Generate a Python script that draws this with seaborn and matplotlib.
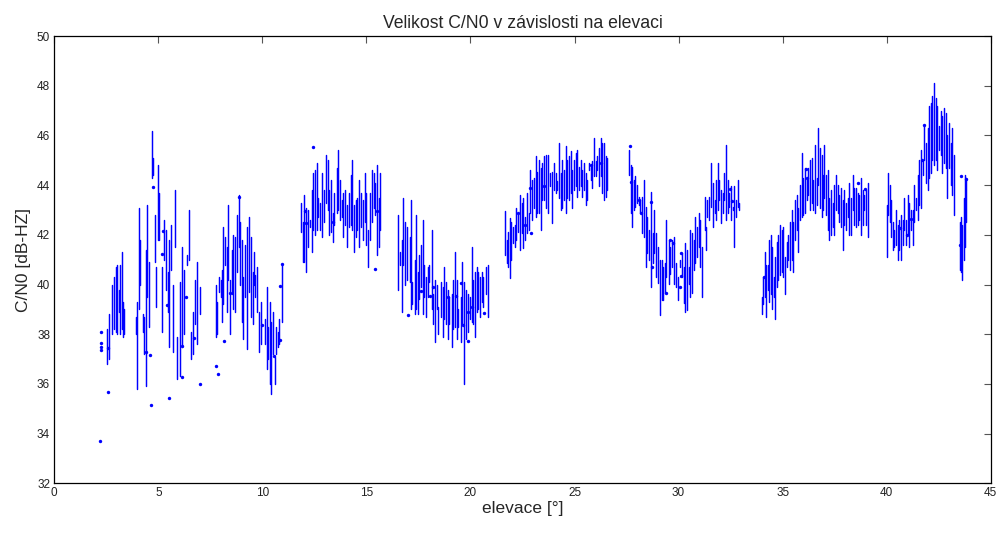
import pandas as pd
import matplotlib
matplotlib.use('Agg')
import matplotlib.pyplot as plt
import seaborn as sns

# C/N0 vs elevation: each pass drawn as short vertical strokes (hi/lo per elevation step)
c1_elev = [2.52, 2.62, 2.75, 2.88, 2.97, 3.03, 3.1, 3.18, 3.25, 3.3, 3.36]
c1_hi = [38.2, 38.8, 40.0, 40.3, 40.7, 40.8, 39.8, 40.8, 41.3, 39.3, 39.0]
c1_lo = [36.8, 37.0, 38.0, 38.2, 38.1, 38.0, 38.9, 38.0, 38.2, 37.9, 38.0]

c2_elev = [3.91, 3.99, 4.05, 4.12, 4.25, 4.33, 4.39, 4.47, 4.55, 4.68, 4.74, 4.83, 4.9, 4.97, 5.04,
           5.16, 5.27, 5.36, 5.44, 5.53, 5.6, 5.69, 5.8, 5.92, 6.02, 6.12, 6.22, 6.36, 6.46, 6.55,
           6.68, 6.78, 6.88, 6.98]
c2_hi = [38.7, 39.3, 43.1, 41.8, 38.8, 38.7, 41.4, 43.2, 40.9, 46.2, 45.1, 42.8, 40.7, 44.8, 43.7,
         40.7, 42.6, 42.2, 40.5, 41.8, 42.4, 40.0, 43.8, 37.9, 40.1, 41.5, 40.6, 41.2, 43.0, 38.1,
         38.9, 40.2, 40.9, 39.9]
c2_lo = [38.0, 35.8, 39.0, 40.0, 38.1, 37.2, 35.9, 39.5, 38.3, 44.3, 44.4, 40.9, 39.1, 41.8, 41.8,
         38.1, 41.0, 39.8, 38.9, 37.5, 40.6, 37.3, 41.5, 36.2, 36.3, 37.5, 38.0, 40.8, 41.0, 37.0,
         37.2, 38.4, 37.6, 38.8]

c3_elev = [7.76, 7.84, 7.92, 8.0, 8.08, 8.12, 8.2, 8.28, 8.35, 8.44, 8.52, 8.6, 8.68, 8.8, 8.86,
           8.92, 9.0, 9.08, 9.16, 9.27, 9.37, 9.45, 9.53, 9.6, 9.66, 9.76, 9.84, 9.92, 10.13, 10.21,
           10.29, 10.37, 10.42, 10.5, 10.59, 10.66, 10.74, 10.82, 10.95]
c3_hi = [40.0, 39.3, 40.3, 40.2, 40.6, 42.3, 41.9, 41.5, 43.2, 40.2, 41.4, 42.0, 41.9, 42.8, 43.6,
         42.5, 41.8, 40.3, 41.6, 42.3, 42.7, 41.9, 40.5, 41.3, 40.4, 40.7, 38.9, 39.3, 38.6, 39.9,
         38.3, 39.3, 38.5, 38.9, 37.1, 38.3, 38.1, 38.6, 40.8]
c3_lo = [37.9, 38.0, 39.7, 39.5, 38.5, 39.2, 40.8, 38.9, 40.2, 38.0, 39.6, 39.0, 38.9, 40.5, 41.5,
         40.0, 38.5, 37.8, 39.5, 37.4, 39.7, 38.7, 38.4, 40.0, 39.5, 38.9, 37.3, 37.6, 37.6, 36.6,
         37.0, 36.0, 35.6, 37.2, 36.0, 37.2, 37.5, 37.6, 38.5]

c4_elev = [11.85, 11.93, 12.01, 12.1, 12.18, 12.29, 12.37, 12.45, 12.53, 12.61, 12.69, 12.77, 12.85,
           12.96, 13.06, 13.14, 13.22, 13.3, 13.38, 13.46, 13.57, 13.65, 13.73, 13.81, 13.89, 13.97,
           14.05, 14.15, 14.25, 14.31, 14.41, 14.49, 14.57, 14.65, 14.74, 14.82, 14.92, 15.0, 15.08,
           15.18, 15.26, 15.34, 15.4, 15.5, 15.58, 15.66]
c4_hi = [43.3, 42.5, 43.6, 43.1, 43.0, 42.6, 43.8, 44.5, 44.6, 44.9, 43.5, 43.3, 44.5, 43.8, 45.2,
         45.0, 43.8, 44.2, 42.9, 43.7, 44.7, 45.4, 44.2, 43.4, 43.7, 43.8, 43.2, 43.7, 44.4, 45.0,
         43.2, 43.4, 43.5, 44.2, 43.7, 43.4, 44.5, 43.7, 42.2, 43.7, 44.6, 44.5, 44.1, 44.8, 43.5,
         44.5]
c4_lo = [42.1, 40.9, 40.9, 40.5, 41.5, 42.3, 41.3, 42.2, 42.0, 42.2, 42.7, 42.2, 41.9, 42.5, 43.3,
         43.0, 42.0, 42.1, 41.7, 42.4, 42.9, 43.0, 42.6, 42.7, 41.9, 42.4, 41.5, 42.3, 42.4, 42.2,
         41.3, 41.9, 42.2, 41.5, 42.3, 41.8, 42.5, 41.6, 40.7, 41.8, 42.5, 43.1, 42.8, 41.2, 41.5,
         42.2]

c5_elev = [16.54, 16.62, 16.7, 16.78, 16.86, 16.97, 17.07, 17.13, 17.21, 17.31, 17.39, 17.47, 17.55,
           17.63, 17.71, 17.79, 17.87, 17.95, 18.03, 18.13, 18.22, 18.3, 18.38, 18.46, 18.58, 18.67,
           18.75, 18.83, 18.91, 18.99, 19.1, 19.18, 19.26, 19.34, 19.42, 19.53, 19.61, 19.71, 19.8,
           19.88, 19.98, 20.06, 20.14, 20.22, 20.3, 20.38, 20.46, 20.54, 20.62, 20.74, 20.82]
c5_hi = [42.8, 41.3, 41.8, 43.5, 42.5, 42.3, 41.9, 43.4, 40.1, 41.0, 42.8, 40.5, 41.2, 41.6, 42.6,
         40.8, 40.3, 40.7, 40.8, 42.2, 39.6, 40.2, 40.0, 39.1, 40.1, 39.9, 40.7, 40.1, 39.8, 39.5,
         39.6, 40.2, 41.3, 40.2, 39.0, 39.5, 40.9, 40.1, 39.8, 39.6, 39.5, 41.5, 40.2, 40.5, 40.7,
         40.5, 40.3, 40.5, 40.3, 40.7, 40.8]
c5_lo = [39.8, 40.8, 38.9, 40.8, 40.0, 40.2, 40.1, 39.0, 39.2, 38.8, 39.0, 38.8, 39.4, 39.9, 38.8,
         39.5, 38.7, 39.5, 40.1, 39.0, 38.4, 37.7, 39.0, 38.0, 38.7, 37.9, 38.6, 38.4, 37.8, 38.4,
         37.5, 38.2, 38.3, 37.8, 38.3, 37.7, 38.4, 36.0, 37.8, 38.1, 38.6, 38.5, 38.4, 37.9, 38.9,
         39.0, 38.7, 39.3, 39.1, 39.6, 38.7]

c6_elev = [21.65, 21.74, 21.81, 21.88, 21.96, 22.03, 22.12, 22.2, 22.28, 22.36, 22.46, 22.54, 22.62,
           22.7, 22.8, 22.88, 22.96, 23.04, 23.13, 23.21, 23.29, 23.37, 23.45, 23.53, 23.63, 23.71,
           23.8, 23.93, 24.01, 24.09, 24.17, 24.25, 24.33, 24.41, 24.49, 24.57, 24.65, 24.73, 24.81,
           24.89, 24.97, 25.05, 25.13, 25.22, 25.29, 25.37, 25.45, 25.53, 25.61, 25.69, 25.77, 25.85,
           25.93, 26.01, 26.09, 26.17, 26.25, 26.33, 26.41, 26.49, 26.57]
c6_hi = [42.98, 41.8, 42.13, 42.67, 42.5, 42.3, 42.4, 43.1, 42.9, 43.6, 43.27, 43.5, 42.7, 43.7,
         42.9, 44.6, 44.2, 44.3, 45.16, 44.55, 45.0, 44.7, 44.9, 45.16, 45.2, 45.2, 44.48, 44.55,
         44.9, 44.5, 44.15, 45.7, 44.5, 45.0, 44.6, 45.56, 45.0, 45.16, 45.36, 44.6, 45.0, 45.3,
         45.43, 44.75, 45.0, 44.6, 44.9, 44.5, 44.2, 44.9, 44.75, 44.96, 45.9, 44.96, 45.16, 45.5,
         45.9, 45.7, 45.7, 45.16, 45.1]
c6_lo = [41.19, 40.85, 40.72, 40.25, 41.0, 41.66, 41.5, 41.8, 42.1, 41.4, 42.06, 41.46, 41.8, 42.06,
         42.2, 42.87, 42.6, 43.1, 42.73, 42.87, 42.87, 42.2, 43.4, 43.4, 43.07, 42.9, 43.95, 42.47,
         43.8, 43.7, 43.8, 43.5, 43.0, 43.1, 43.4, 42.9, 43.5, 43.4, 43.7, 43.1, 43.8, 43.95, 43.54,
         43.8, 43.95, 43.54, 43.8, 43.2, 43.4, 44.6, 44.2, 43.88, 44.35, 44.35, 44.6, 43.95, 44.35,
         43.7, 43.4, 43.54, 43.8]

c7_elev = [27.62, 27.72, 27.78, 27.84, 27.92, 28.0, 28.08, 28.16, 28.24, 28.32, 28.42, 28.5, 28.58,
           28.67, 28.75, 28.83, 28.93, 29.01, 29.09, 29.19, 29.27, 29.35, 29.42, 29.52, 29.6, 29.68,
           29.76, 29.87, 29.97, 30.08, 30.16, 30.24, 30.32, 30.4, 30.48, 30.56, 30.64, 30.72, 30.8,
           30.88, 30.96, 31.04, 31.13, 31.25, 31.33, 31.39, 31.47, 31.55, 31.65, 31.73, 31.81, 31.89,
           31.96, 32.04, 32.12, 32.2, 32.28, 32.36, 32.44, 32.52, 32.6, 32.68, 32.76, 32.84, 32.89]
c7_hi = [45.4, 44.8, 44.75, 44.2, 44.35, 44.0, 43.54, 43.4, 43.54, 44.2, 43.14, 42.73, 42.2, 43.74,
         42.06, 43.0, 42.06, 41.5, 40.98, 40.98, 40.72, 40.85, 42.6, 41.8, 41.5, 41.8, 41.93, 40.85,
         40.3, 40.98, 41.25, 40.72, 41.66, 41.39, 40.72, 42.2, 42.06, 41.8, 42.73, 42.33, 42.87, 42.6,
         41.5, 43.54, 42.33, 43.4, 43.54, 44.9, 44.08, 43.4, 44.2, 44.9, 44.2, 43.8, 43.67, 44.48,
         45.63, 44.2, 43.67, 43.95, 43.14, 43.95, 43.4, 44.2, 43.27]
c7_lo = [44.42, 42.87, 42.33, 43.0, 43.14, 43.27, 43.2, 42.87, 42.06, 41.93, 40.72, 41.25, 40.98,
         39.9, 40.85, 41.25, 40.3, 40.06, 38.76, 39.37, 39.37, 39.64, 40.3, 40.04, 40.44, 40.72,
         40.04, 39.9, 39.37, 40.72, 40.3, 39.24, 38.9, 38.97, 40.04, 39.5, 39.64, 40.6, 40.85, 41.12,
         41.5, 40.72, 39.5, 42.2, 41.39, 42.73, 42.6, 43.14, 42.33, 42.87, 42.6, 43.0, 43.4, 42.47,
         42.87, 43.4, 42.6, 42.87, 43.14, 42.6, 43.0, 41.5, 42.73, 43.14, 43.0]

c8_elev = [33.99, 34.07, 34.15, 34.22, 34.28, 34.36, 34.42, 34.5, 34.58, 34.63, 34.71, 34.79, 34.87,
           34.95, 35.03, 35.11, 35.19, 35.27, 35.35, 35.43, 35.51, 35.59, 35.67, 35.75, 35.83, 35.91,
           35.99, 36.07, 36.15, 36.23, 36.31, 36.39, 36.47, 36.55, 36.63, 36.71, 36.79, 36.87, 36.95,
           37.01, 37.09, 37.17, 37.25, 37.33, 37.41, 37.49, 37.57, 37.65, 37.73, 37.81, 37.89, 37.97,
           38.05, 38.13, 38.21, 38.29, 38.37, 38.45, 38.53, 38.61, 38.69, 38.77, 38.85, 38.93, 39.01,
           39.09]
c8_hi = [39.5, 40.3, 41.3, 40.8, 40.8, 41.8, 42.0, 41.5, 40.3, 41.1, 41.7, 42.0, 42.4, 42.2, 42.3,
         41.1, 41.7, 42.0, 42.5, 43.0, 42.5, 43.4, 43.6, 43.1, 44.0, 45.3, 44.3, 44.7, 44.3, 44.7,
         45.0, 45.1, 44.2, 45.6, 44.3, 46.3, 45.5, 45.2, 44.4, 45.6, 44.4, 44.6, 43.5, 43.8, 43.3,
         44.0, 44.4, 44.0, 43.6, 43.9, 43.4, 43.8, 43.3, 43.5, 44.1, 43.5, 44.4, 43.9, 43.9, 43.7,
         43.6, 44.3, 43.8, 43.6, 43.8, 44.1]
c8_lo = [38.8, 39.2, 39.5, 38.7, 39.8, 39.3, 39.6, 39.0, 39.5, 38.6, 39.9, 40.2, 40.4, 40.5, 40.3,
         39.6, 40.7, 41.0, 40.6, 41.0, 40.5, 41.8, 42.2, 41.3, 42.6, 42.7, 42.8, 42.9, 43.4, 43.6,
         43.0, 43.3, 43.0, 42.9, 43.2, 44.0, 43.1, 42.7, 43.0, 43.5, 42.8, 42.2, 41.8, 42.0, 42.3,
         42.0, 43.0, 42.9, 42.5, 42.3, 41.4, 42.4, 42.2, 42.7, 42.0, 42.0, 43.0, 42.4, 42.3, 42.4,
         42.6, 42.0, 42.4, 43.0, 42.4, 41.9]

c9_elev = [40.0, 40.08, 40.14, 40.21, 40.29, 40.37, 40.45, 40.53, 40.61, 40.69, 40.77, 40.85, 40.93,
           41.01, 41.09, 41.17, 41.25, 41.33, 41.41, 41.49, 41.57, 41.65, 41.73, 41.81, 41.89, 41.97,
           42.04, 42.12, 42.2, 42.28, 42.36, 42.44, 42.52, 42.6, 42.68, 42.76, 42.84, 42.92, 43.0,
           43.08, 43.16, 43.24, 43.52, 43.56, 43.63, 43.7, 43.76, 43.82]
c9_hi = [43.2, 44.5, 44.0, 43.4, 42.5, 42.2, 43.0, 42.4, 42.6, 42.8, 42.6, 43.5, 42.6, 43.6, 43.3,
         43.0, 43.0, 44.0, 43.5, 44.4, 45.0, 45.4, 45.0, 46.4, 45.7, 46.3, 47.2, 47.3, 47.6, 48.1,
         47.5, 47.2, 46.4, 47.0, 46.8, 47.1, 46.9, 46.0, 46.5, 45.7, 46.3, 45.2, 42.5, 42.7, 42.4,
         43.5, 44.4, 44.3]
c9_lo = [41.1, 42.8, 42.5, 41.9, 41.4, 41.5, 41.6, 41.0, 41.4, 41.0, 41.6, 42.2, 41.6, 42.0, 41.5,
         42.2, 41.6, 42.5, 43.0, 42.6, 43.2, 43.1, 44.4, 45.0, 44.1, 43.8, 44.3, 44.5, 45.0, 44.8,
         45.0, 44.6, 45.4, 45.2, 44.5, 44.9, 44.7, 43.5, 44.7, 44.0, 43.6, 42.8, 40.6, 40.5, 40.2,
         41.0, 41.5, 42.5]

# isolated samples shown as dots
dot_elev = [2.23, 2.23, 2.25, 2.25, 2.22, 2.6, 2.57, 4.39, 4.58, 4.65, 4.74, 5.18, 5.22, 5.4, 5.5,
            6.12, 6.12, 6.31, 6.73, 6.99, 7.77, 7.86, 8.17, 8.44, 8.86, 10.0, 10.57, 10.85, 10.85,
            10.96, 12.04, 12.08, 12.43, 13.38, 15.4, 15.5, 16.99, 17.61, 18.06, 18.22, 18.91, 19.29,
            19.54, 19.66, 19.89, 19.9, 20.06, 20.67, 22.28, 22.6, 22.86, 22.9, 23.53, 25.77, 26.25,
            27.65, 27.7, 28.12, 28.2, 28.67, 28.73, 29.39, 29.58, 29.71, 30.05, 30.13, 30.13, 32.48,
            32.56, 34.1, 36.1, 36.18, 38.63, 38.98, 40.65, 41.0, 41.17, 41.68, 41.81, 43.53, 43.59,
            43.83]
dot_cn0 = [38.1, 37.63, 37.5, 37.36, 33.71, 35.69, 37.43, 37.28, 37.16, 35.15, 43.94, 41.24, 42.15,
           39.17, 35.45, 36.28, 37.51, 39.5, 37.85, 36.0, 36.71, 36.39, 37.71, 39.67, 43.53, 38.37,
           37.11, 37.78, 39.94, 40.81, 42.98, 42.48, 45.55, 42.51, 40.62, 42.98, 38.78, 39.76, 39.52,
           39.89, 39.49, 39.53, 40.05, 38.39, 37.74, 38.89, 39.09, 38.85, 42.9, 42.4, 43.88, 42.09,
           43.95, 44.8, 44.9, 45.56, 44.12, 43.4, 42.87, 43.34, 40.72, 39.67, 41.8, 41.68, 39.9,
           41.28, 40.34, 43.84, 43.37, 40.3, 44.65, 44.28, 44.1, 43.85, 42.27, 41.98, 42.64, 45.0,
           46.44, 41.6, 44.36, 44.26]

passes = [
    (c1_elev, c1_hi, c1_lo),
    (c2_elev, c2_hi, c2_lo),
    (c3_elev, c3_hi, c3_lo),
    (c4_elev, c4_hi, c4_lo),
    (c5_elev, c5_hi, c5_lo),
    (c6_elev, c6_hi, c6_lo),
    (c7_elev, c7_hi, c7_lo),
    (c8_elev, c8_hi, c8_lo),
    (c9_elev, c9_hi, c9_lo),
]

# every stroke is its own little line (unit)
rows = []
unit = 0
for elev, hi, lo in passes:
    for e, h, l in zip(elev, hi, lo):
        rows.append((e, h, unit))
        rows.append((e, l, unit))
        unit += 1
df = pd.DataFrame(rows, columns=['elev', 'cn0', 'unit'])
dots = pd.DataFrame({'elev': dot_elev, 'cn0': dot_cn0})

sns.set_theme(style='white')
plt.rcParams['font.family'] = ['Liberation Sans', 'DejaVu Sans']

fig = plt.figure(figsize=(10, 5.44), dpi=100)
ax = fig.add_axes([0.0543, 0.1116, 0.9364, 0.822])

sns.lineplot(data=df, x='elev', y='cn0', units='unit', estimator=None, sort=False,
             color='#0000ff', linewidth=1.05, ax=ax, legend=False)
sns.scatterplot(data=dots, x='elev', y='cn0', color='#0000ff', s=6, linewidth=0,
                ax=ax, legend=False)

ax.set_xlim(0, 45)
ax.set_ylim(32, 50)
ax.set_xticks(range(0, 46, 5))
ax.set_yticks(range(32, 51, 2))
ax.tick_params(direction='in', length=5, width=0.8, color='#555555', labelsize=8.5,
               labelcolor='#222222', top=True, right=True, pad=3)
for s in ax.spines.values():
    s.set_color('black')
    s.set_linewidth(0.9)

ax.set_title('Velikost C/N0 v závislosti na elevaci', fontsize=12.7, pad=6)
ax.set_xlabel('elevace [°]', fontsize=12.5, labelpad=1)
ax.set_ylabel('C/N0 [dB-HZ]', fontsize=12.5, labelpad=4)

fig.savefig('out.png', dpi=100)
